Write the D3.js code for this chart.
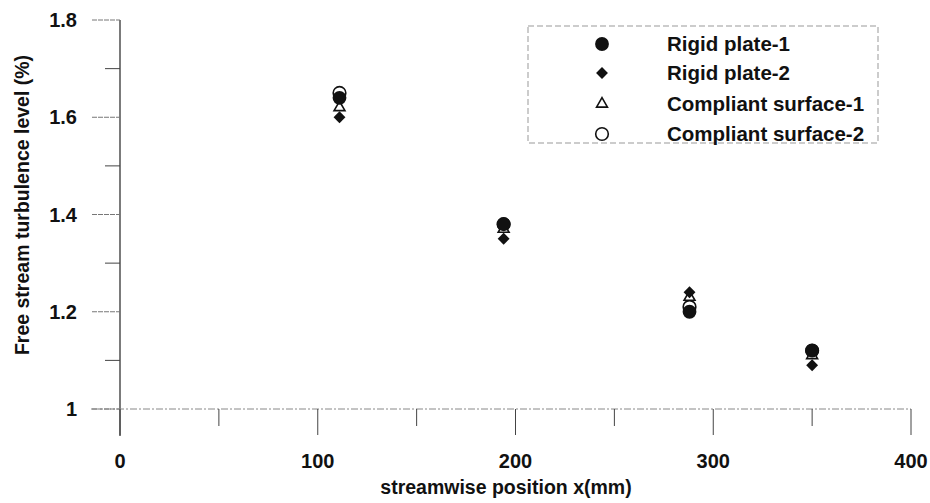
<!DOCTYPE html>
<html><head><meta charset="utf-8">
<script src="https://cdn.jsdelivr.net/npm/d3@7"></script>
<style>body{margin:0;background:#fff;}svg{display:block;font-family:"Liberation Sans",Arial,sans-serif;}</style>
</head><body><svg id="c" width="930" height="503"></svg>
<script>
const positions = [111, 194, 288, 350];
const rigid1 = [1.64, 1.38, 1.20, 1.12];
const rigid2 = [1.60, 1.35, 1.24, 1.09];
const compliant1 = [1.62, 1.37, 1.23, 1.11];
const compliant2 = [1.65, 1.38, 1.21, 1.12];
const seriesNames = ["Rigid plate-1", "Rigid plate-2", "Compliant surface-1", "Compliant surface-2"];
const xTicks = [0, 100, 200, 300, 400];
const xMinor = [50, 150, 250, 350];
const yTicks = [1, 1.2, 1.4, 1.6, 1.8];
const yMinor = [1.1, 1.3, 1.5, 1.7];

const svg = d3.select("#c");
const x = d3.scaleLinear().domain([0, 400]).range([120, 911]);
const y = d3.scaleLinear().domain([1, 1.8]).range([409, 20]);

const g = svg.append("g");
g.append("line").attr("x1", x(0)).attr("x2", x(0)).attr("y1", y(1.8)).attr("y2", 436).attr("stroke", "#222").attr("stroke-width", 1.2);
g.append("line").attr("x1", 91).attr("x2", x(400)).attr("y1", y(1)).attr("y2", y(1)).attr("stroke", "#888").attr("stroke-width", 1).attr("stroke-dasharray", "7,2,2,2");
g.selectAll(".yt").data(yTicks).join("line").attr("x1", 92).attr("x2", x(0)).attr("y1", d => y(d)).attr("y2", d => y(d)).attr("stroke", "#777").attr("stroke-dasharray", "5,1");
g.selectAll(".ym").data(yMinor).join("line").attr("x1", 105).attr("x2", x(0)).attr("y1", d => y(d)).attr("y2", d => y(d)).attr("stroke", "#444");
g.selectAll(".yl").data(yTicks).join("text").attr("x", 77).attr("y", d => y(d) + 7).attr("text-anchor", "end")
  .attr("font-size", 20).attr("font-weight", "bold").attr("fill", "#111").text(d => d === 1 ? "1" : d.toFixed(1));
g.selectAll(".xt").data(xTicks).join("line").attr("x1", d => x(d)).attr("x2", d => x(d)).attr("y1", y(1)).attr("y2", 435).attr("stroke", "#444");
g.selectAll(".xm").data(xMinor).join("line").attr("x1", d => x(d)).attr("x2", d => x(d)).attr("y1", y(1)).attr("y2", 426).attr("stroke", "#444");
g.selectAll(".xl").data(xTicks).join("text").attr("x", d => x(d)).attr("y", 468).attr("text-anchor", "middle")
  .attr("font-size", 20).attr("font-weight", "bold").attr("fill", "#111").text(d => d);
svg.append("text").attr("x", 506).attr("y", 494).attr("text-anchor", "middle").attr("font-size", 19.5).attr("font-weight", "bold").attr("fill", "#111").text("streamwise position x(mm)");
svg.append("text").attr("transform", `translate(29,205) rotate(-90)`).attr("text-anchor", "middle").attr("font-size", 19.5).attr("font-weight", "bold").attr("fill", "#111").text("Free stream turbulence level (%)");

const symbols = [
  {type: d3.symbolCircle, size: 150, fill: "#111", stroke: "none"},
  {type: d3.symbolDiamond2, size: 90, fill: "#111", stroke: "none"},
  {type: d3.symbolTriangle2, size: 85, fill: "#fff", stroke: "#111"},
  {type: d3.symbolCircle, size: 125, fill: "#fff", stroke: "#111"}
];
const series = [rigid1, rigid2, compliant1, compliant2];
const order = [3, 2, 0, 1];
order.forEach(i => {
  const s = symbols[i];
  svg.append("g").selectAll("path").data(series[i]).join("path")
    .attr("transform", (d, j) => `translate(${x(positions[j])},${y(d)})`)
    .attr("d", d3.symbol().type(s.type).size(s.size)())
    .attr("fill", s.fill).attr("stroke", s.stroke).attr("stroke-width", 1.6);
});

const lg = svg.append("g");
lg.append("rect").attr("x", 528).attr("y", 26).attr("width", 350).attr("height", 117).attr("fill", "none")
  .attr("stroke", "#999").attr("stroke-dasharray", "6,3");
const rowsY = [44, 73, 104, 134];
seriesNames.forEach((n, i) => {
  const s = symbols[i];
  lg.append("path").attr("transform", `translate(602,${rowsY[i]})`).attr("d", d3.symbol().type(s.type).size(s.size)())
    .attr("fill", s.fill).attr("stroke", s.stroke).attr("stroke-width", 1.6);
  lg.append("text").attr("x", 667).attr("y", rowsY[i] + 7).attr("font-size", 20.5).attr("font-weight", "bold").attr("fill", "#111").text(n);
});
</script></body></html>
